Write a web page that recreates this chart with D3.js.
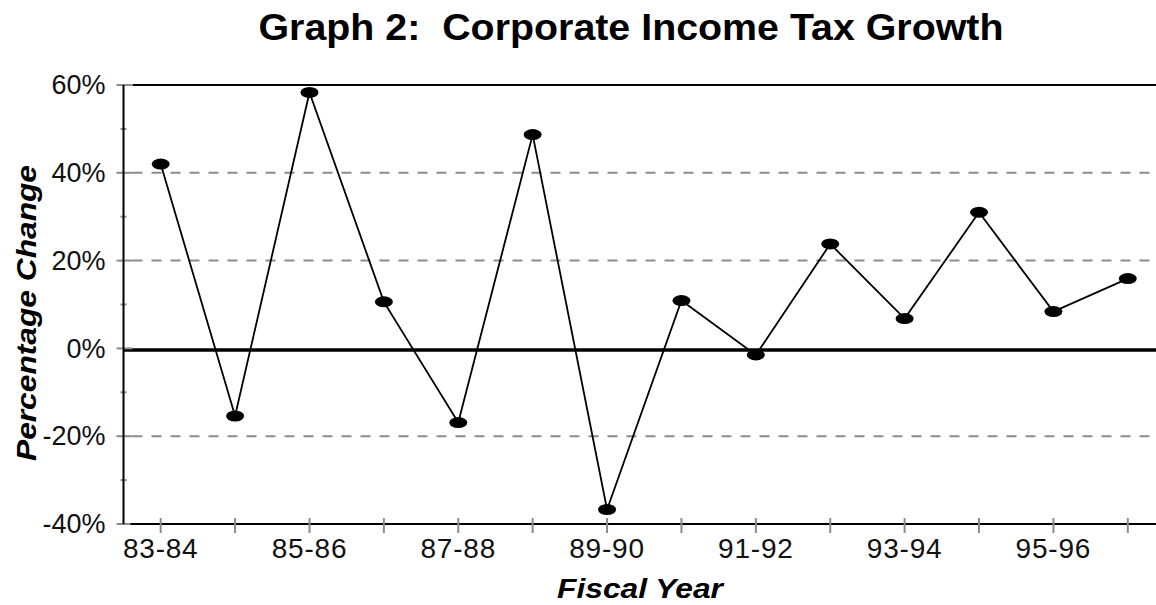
<!DOCTYPE html>
<html>
<head>
<meta charset="utf-8">
<script src="https://cdn.jsdelivr.net/npm/d3@7"></script>
<style>
  body { margin: 0; background: #fff; }
  text { font-family: "Liberation Sans", Arial, sans-serif; }
</style>
</head>
<body>
<div id="chart-area"></div>
<script>
// Data
var years = ["83-84", "84-85", "85-86", "86-87", "87-88", "88-89", "89-90",
  "90-91", "91-92", "92-93", "93-94", "94-95", "95-96", "96-97"];
var growth = [42.0, -15.4, 58.3, 10.6, -16.9, 48.7, -36.7,
  10.9, -1.5, 23.8, 6.8, 31.0, 8.4, 15.9];
var yTicks = [-40, -20, 0, 20, 40, 60];
var yMinor = [-40, -30, -20, -10, 0, 10, 20, 30, 40, 50, 60];
var gridVals = [-20, 20, 40];
var xLabels = ["83-84", "85-86", "87-88", "89-90", "91-92", "93-94", "95-96"];

var width = 1156, height = 605;
var plotL = 123.5, plotR = 1165, plotT = 85, plotB = 524;

var svg = d3.select("#chart-area").append("svg")
  .attr("width", width)
  .attr("height", height);

// Scales
var x = d3.scaleBand().domain(years).range([plotL, plotR]);
var y = d3.scaleLinear().domain([-40, 60]).range([plotB, plotT]);
var cx = function(d) { return x(d) + x.bandwidth() / 2; };

// Title
svg.append("text")
  .attr("x", 631)
  .attr("y", 40)
  .attr("text-anchor", "middle")
  .attr("font-weight", "bold")
  .attr("font-size", "37px")
  .attr("textLength", 745)
  .attr("lengthAdjust", "spacingAndGlyphs")
  .style("white-space", "pre")
  .text("Graph 2:  Corporate Income Tax Growth");

// Grid lines
svg.selectAll(".grid")
  .data(gridVals)
  .enter().append("line")
  .attr("class", "grid")
  .attr("x1", plotL + 9)
  .attr("x2", width)
  .attr("y1", function(d) { return y(d); })
  .attr("y2", function(d) { return y(d); })
  .attr("stroke", "#8c8c8c")
  .attr("stroke-width", 2)
  .attr("stroke-dasharray", "10,9");

// Top border
svg.append("line")
  .attr("x1", plotL + 9).attr("x2", width)
  .attr("y1", y(60)).attr("y2", y(60))
  .attr("stroke", "#000").attr("stroke-width", 2);

// Zero line
svg.append("line")
  .attr("x1", plotL).attr("x2", width)
  .attr("y1", y(0) + 1.5).attr("y2", y(0) + 1.5)
  .attr("stroke", "#000").attr("stroke-width", 3.5);

// Y axis
var yAxisCall = d3.axisLeft(y)
  .tickValues(yTicks)
  .tickSize(0)
  .tickPadding(18)
  .tickFormat(function(d) { return d + "%"; });
var yAxis = svg.append("g")
  .attr("transform", "translate(" + plotL + ",0)")
  .call(yAxisCall);
yAxis.select(".domain").remove();
yAxis.selectAll("text")
  .attr("font-size", "27px")
  .attr("fill", "#111")
  .attr("font-family", "'Liberation Sans', Arial, sans-serif");

// Y tick marks
svg.selectAll(".ytick")
  .data(yMinor)
  .enter().append("line")
  .attr("class", "ytick")
  .attr("x1", function(d) { return d % 20 === 0 ? plotL - 7 : plotL - 3; })
  .attr("x2", function(d) { return d % 20 === 0 ? plotL + 9 : plotL + 3; })
  .attr("y1", function(d) { return y(d); })
  .attr("y2", function(d) { return y(d); })
  .attr("stroke", "#8c8c8c")
  .attr("stroke-width", 2);

svg.append("line")
  .attr("x1", plotL).attr("x2", plotL)
  .attr("y1", plotT).attr("y2", plotB)
  .attr("stroke", "#000").attr("stroke-width", 2);

// X axis
var xAxisCall = d3.axisBottom(x)
  .tickValues(xLabels)
  .tickSize(0)
  .tickPadding(14);
var xAxis = svg.append("g")
  .attr("transform", "translate(0," + plotB + ")")
  .call(xAxisCall);
xAxis.select(".domain").remove();
xAxis.selectAll("text")
  .attr("font-size", "28px")
  .attr("fill", "#111")
  .attr("letter-spacing", "0.8px")
  .attr("font-family", "'Liberation Sans', Arial, sans-serif");

svg.append("line")
  .attr("x1", plotL + 7).attr("x2", width)
  .attr("y1", plotB).attr("y2", plotB)
  .attr("stroke", "#000").attr("stroke-width", 2);

svg.selectAll(".xtick")
  .data(years)
  .enter().append("line")
  .attr("class", "xtick")
  .attr("x1", cx).attr("x2", cx)
  .attr("y1", plotB - 6).attr("y2", plotB + 9)
  .attr("stroke", "#8c8c8c")
  .attr("stroke-width", 2);

// Axis titles
svg.append("text")
  .attr("x", 640)
  .attr("y", 598)
  .attr("text-anchor", "middle")
  .attr("font-weight", "bold")
  .attr("font-style", "italic")
  .attr("font-size", "28px")
  .attr("textLength", 166)
  .attr("lengthAdjust", "spacingAndGlyphs")
  .text("Fiscal Year");

svg.append("text")
  .attr("transform", "translate(36,313) rotate(-90)")
  .attr("text-anchor", "middle")
  .attr("font-weight", "bold")
  .attr("font-style", "italic")
  .attr("font-size", "28px")
  .attr("textLength", 296)
  .attr("lengthAdjust", "spacingAndGlyphs")
  .text("Percentage Change");

// Line
var line = d3.line()
  .x(function(d, i) { return cx(years[i]); })
  .y(function(d) { return y(d); });

svg.append("path")
  .attr("d", line(growth))
  .attr("fill", "none")
  .attr("stroke", "#000")
  .attr("stroke-width", 1.8);

// Markers
svg.selectAll(".dot")
  .data(growth)
  .enter().append("ellipse")
  .attr("class", "dot")
  .attr("cx", function(d, i) { return cx(years[i]); })
  .attr("cy", function(d) { return y(d); })
  .attr("rx", 9)
  .attr("ry", 5.5)
  .attr("fill", "#000");
</script>
</body>
</html>
